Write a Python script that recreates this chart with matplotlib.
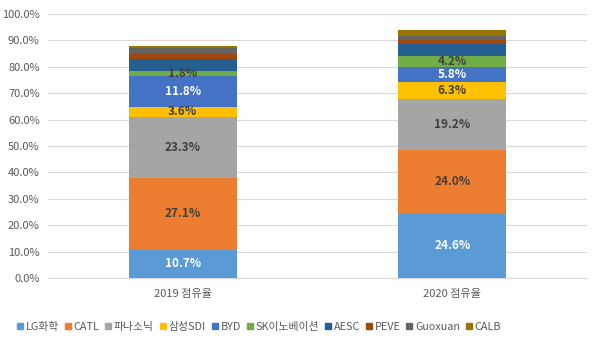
import numpy as np
import matplotlib.pyplot as plt
from matplotlib.patches import Patch

plt.rcParams['font.family'] = ['Noto Sans CJK KR', 'DejaVu Sans']

years = ['2019 점유율', '2020 점유율']
makers = ['LG화학', 'CATL', '파나소닉', '삼성SDI', 'BYD', 'SK이노베이션',
          'AESC', 'PEVE', 'Guoxuan', 'CALB']
share_2019 = [10.7, 27.1, 23.3, 3.6, 11.8, 1.8, 4.6, 1.8, 2.4, 0.6]
share_2020 = [24.6, 24.0, 19.2, 6.3, 5.8, 4.2, 4.4, 1.6, 1.5, 2.3]
colors = ['#5B9BD5', '#ED7D31', '#A5A5A5', '#FFC000', '#4472C4', '#70AD47',
          '#255E91', '#9E480E', '#636363', '#997300']
label_colors = ['white', '#404040', '#404040', '#404040', 'white', '#404040']
n_labeled = 6

fig = plt.figure(figsize=(5.93, 3.53), dpi=100)
ax = fig.add_axes([0.081, 0.2125, 0.909, 0.7478])

data = np.array([share_2019, share_2020]) / 100
x = np.arange(len(years))
bottom = np.zeros(len(years))
for i, name in enumerate(makers):
    vals = data[:, i]
    ax.bar(x, vals, 0.4, bottom=bottom, color=colors[i], zorder=3)
    if i < n_labeled:
        for j in range(len(years)):
            ax.text(x[j], bottom[j] + vals[j] / 2, f'{vals[j]*100:.1f}%',
                    ha='center', va='center', fontsize=8.5, fontweight='bold',
                    color=label_colors[i], zorder=4)
    bottom += vals

ax.set_xlim(-0.5, 1.5)
ax.set_ylim(0, 1.0)
ax.set_yticks(np.arange(0, 1.01, 0.1))
ax.set_yticklabels([f'{v*100:.1f}%' for v in np.arange(0, 1.01, 0.1)])
ax.set_xticks(x)
ax.set_xticklabels(years)
ax.grid(axis='y', color='#D9D9D9', linewidth=0.8, zorder=0)
for s in ['top', 'right', 'left']:
    ax.spines[s].set_visible(False)
ax.spines['bottom'].set_color('#D9D9D9')
ax.tick_params(axis='both', length=0, labelsize=8, colors='#595959')
ax.tick_params(axis='x', pad=8)
ax.tick_params(axis='y', pad=6)

handles = [Patch(color=c, label=m) for c, m in zip(colors, makers)]
fig.legend(handles=handles, loc='center', bbox_to_anchor=(0.437, 0.074), ncol=10,
           frameon=False, fontsize=7.8, handlelength=0.55, handleheight=0.55,
           handletextpad=0.25, columnspacing=0.55, labelcolor='#595959')

fig.savefig('out.png', dpi=100)
